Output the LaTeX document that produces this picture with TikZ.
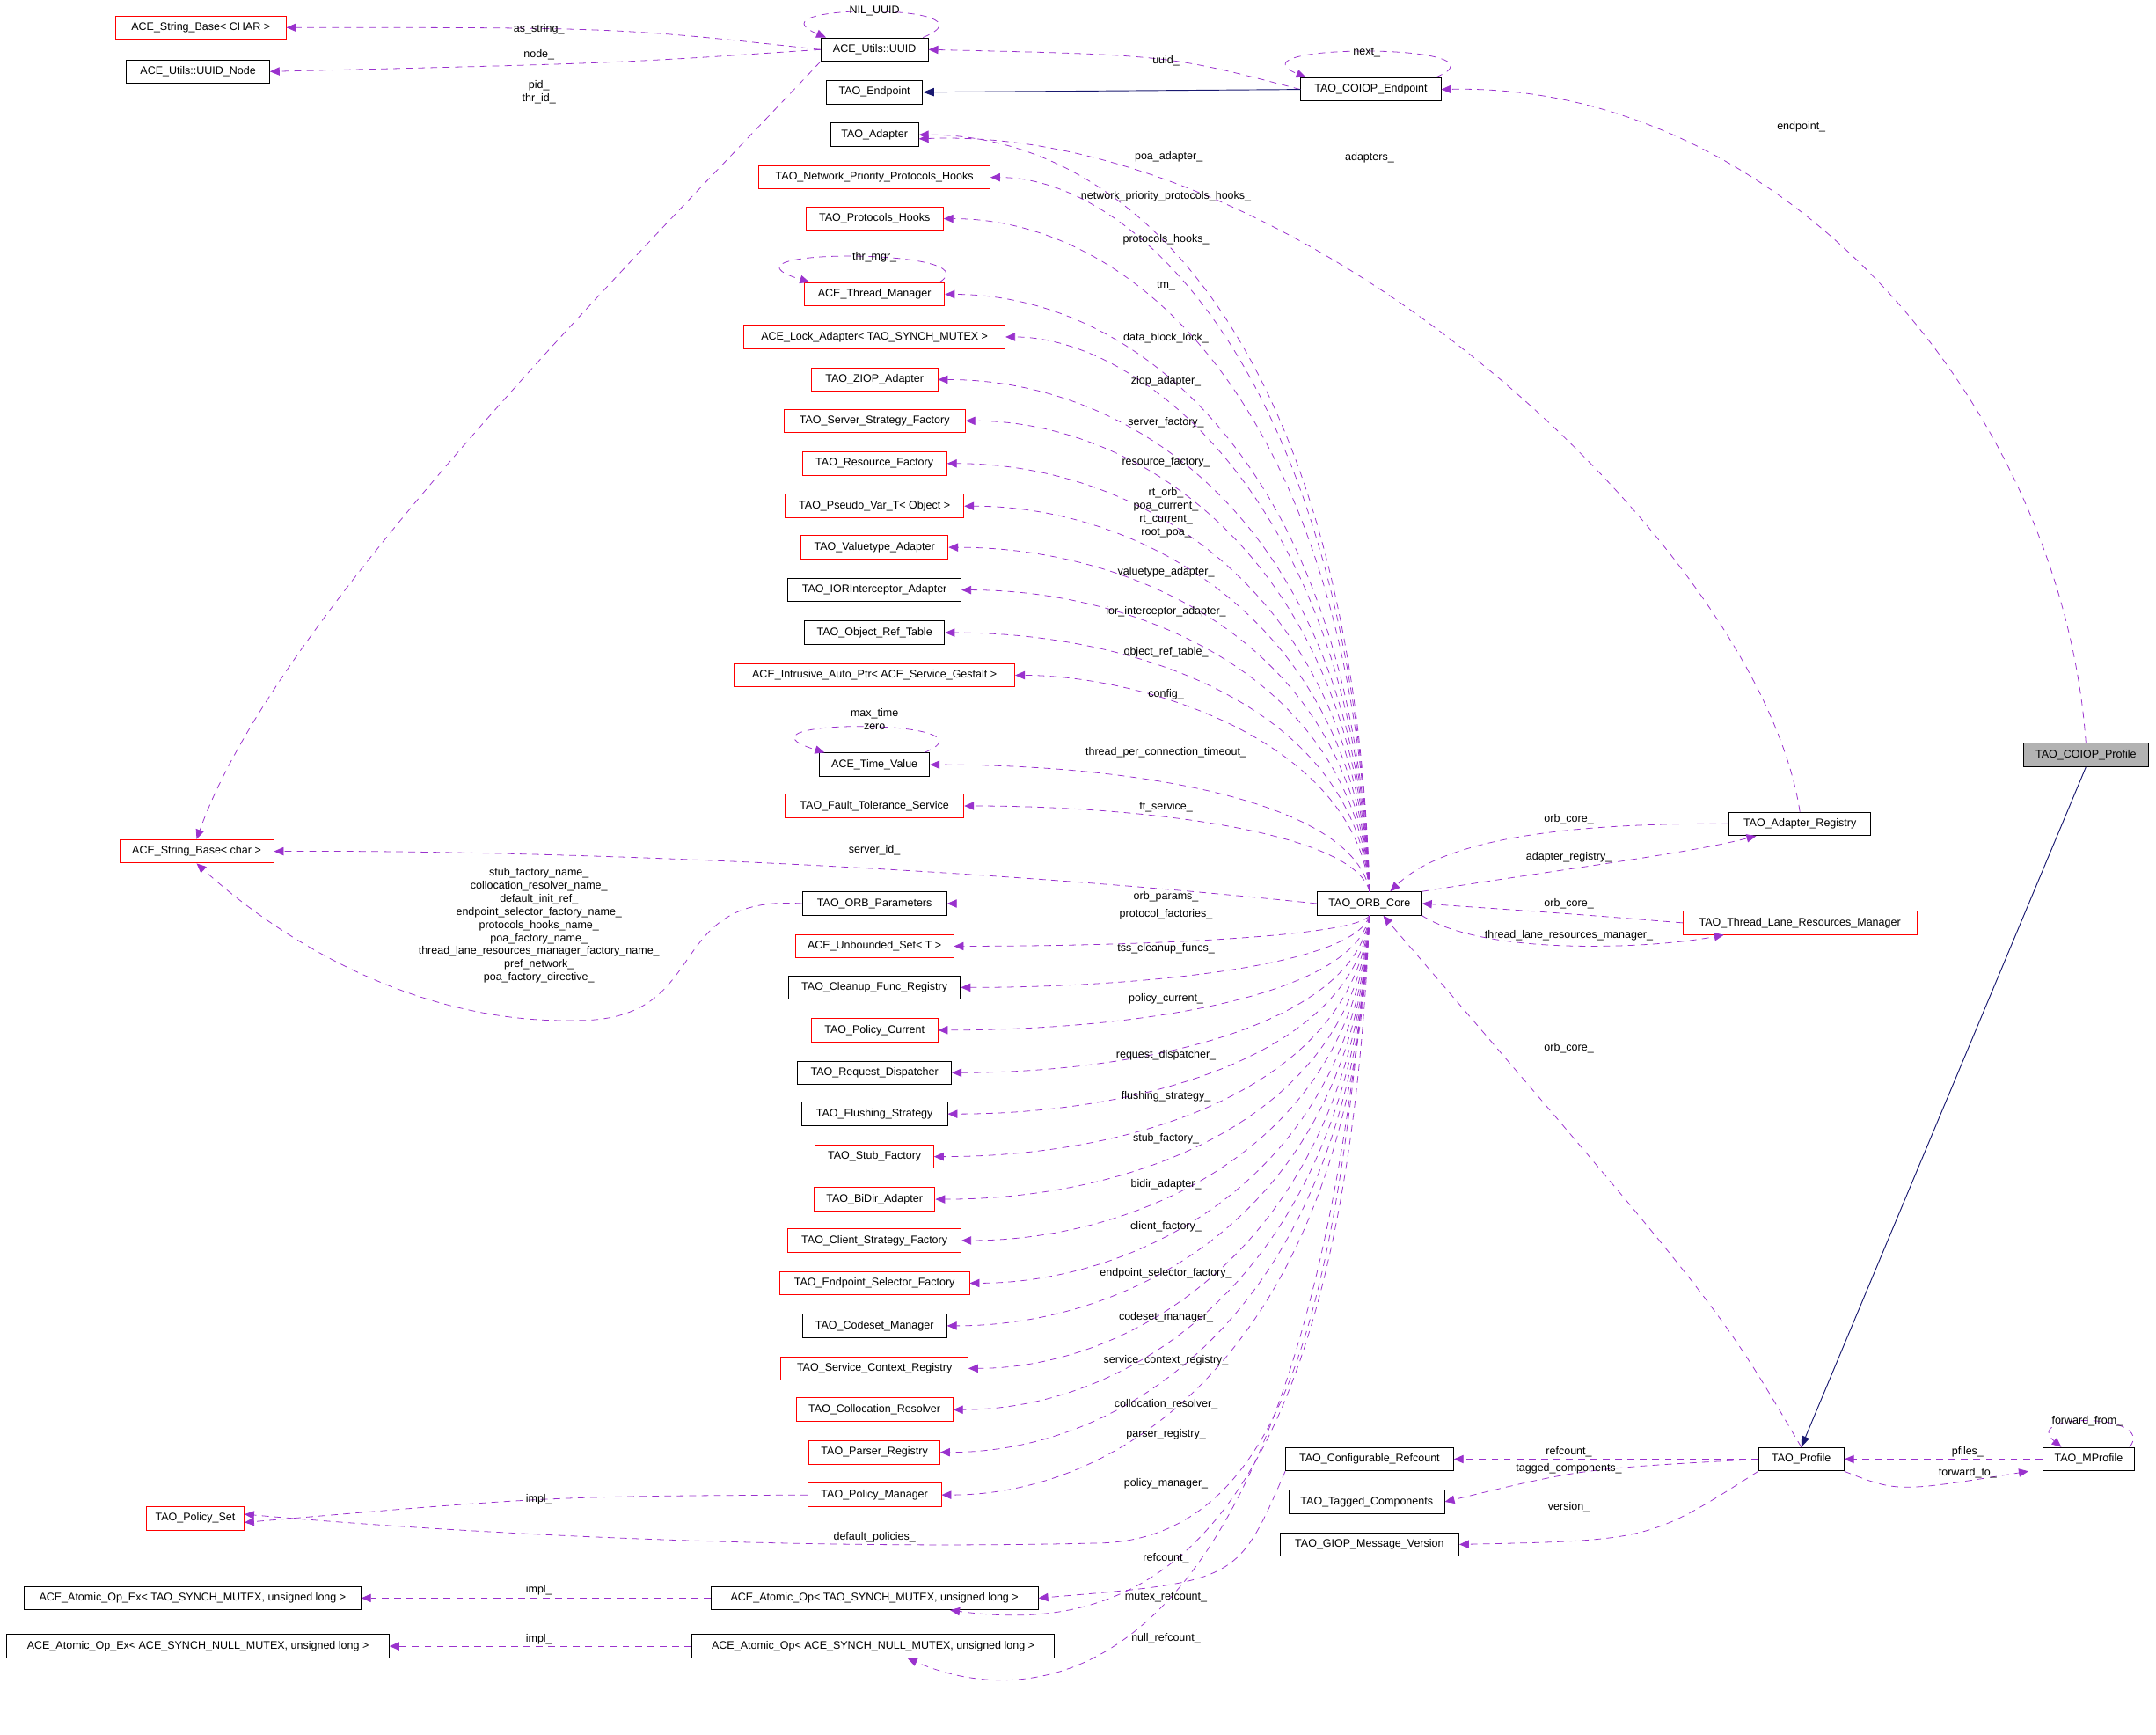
\documentclass[tikz,border=0pt]{standalone}
\usepackage{fontspec}
\setmainfont{Liberation Sans}
\usetikzlibrary{arrows.meta}
\definecolor{dpur}{HTML}{9A32CD}
\definecolor{navy}{HTML}{191970}
\tikzset{
 cls/.style={draw=black,line width=0.6pt,minimum height=17pt,inner sep=1pt,font=\fontsize{8}{9}\selectfont,fill=white},
 rcls/.style={cls,draw=red},
 lbl/.style={inner sep=0pt,font=\fontsize{8}{9}\selectfont,align=center},
 dep/.style={draw=dpur,dashed,dash pattern=on 5pt off 4pt,line width=0.5pt,-{Triangle[length=7pt,width=6pt,fill=dpur]}},
 inh/.style={draw=navy,line width=0.6pt,-{Triangle[length=8pt,width=6pt,fill=navy]}}
}
\newcommand\depU[2]{\draw[dep] (core.north) .. controls (985,{#2+0.3*(648-#2)}) and (830,#2) .. (#1.east);}
\newcommand\depD[2]{\draw[dep] (core.south) .. controls (985,{#2-0.3*(#2-665)}) and (830,#2) .. (#1.east);}
\begin{document}
\begin{tikzpicture}[x=1pt,y=-1pt]
\useasboundingbox (0,0) rectangle (1568,1261);
% nodes
\node[rcls,minimum width=124] (strC) at (146,20) {ACE\_String\_Base< CHAR >};
\node[cls,minimum width=104] (uuidnode) at (144,52) {ACE\_Utils::UUID\_Node};
\node[cls,minimum width=78] (uuid) at (636,36) {ACE\_Utils::UUID};
\node[cls,minimum width=70] (endpoint) at (636,67) {TAO\_Endpoint};
\node[cls,minimum width=102] (coiopep) at (997,65) {TAO\_COIOP\_Endpoint};
\node[cls,minimum width=64] (adapter) at (636,98) {TAO\_Adapter};
\node[rcls,minimum width=168] (nph) at (636,129) {TAO\_Network\_Priority\_Protocols\_Hooks};
\node[rcls,minimum width=100] (ph) at (636,159) {TAO\_Protocols\_Hooks};
\node[rcls,minimum width=102] (thrmgr) at (636,214) {ACE\_Thread\_Manager};
\node[rcls,minimum width=190] (lock) at (636,245) {ACE\_Lock\_Adapter< TAO\_SYNCH\_MUTEX >};
\node[rcls,minimum width=92] (ziop) at (636,276) {TAO\_ZIOP\_Adapter};
\node[rcls,minimum width=132] (ssf) at (636,306) {TAO\_Server\_Strategy\_Factory};
\node[rcls,minimum width=105] (rf) at (636,337) {TAO\_Resource\_Factory};
\node[rcls,minimum width=130] (pv) at (636,368) {TAO\_Pseudo\_Var\_T< Object >};
\node[rcls,minimum width=107] (va) at (636,398) {TAO\_Valuetype\_Adapter};
\node[cls,minimum width=126] (ior) at (636,429) {TAO\_IORInterceptor\_Adapter};
\node[cls,minimum width=102] (ort) at (636,460) {TAO\_Object\_Ref\_Table};
\node[rcls,minimum width=204] (iap) at (636,491) {ACE\_Intrusive\_Auto\_Ptr< ACE\_Service\_Gestalt >};
\node[cls,minimum width=80] (tv) at (636,556) {ACE\_Time\_Value};
\node[rcls,minimum width=130] (fts) at (636,586) {TAO\_Fault\_Tolerance\_Service};
\node[rcls,minimum width=112] (strc) at (143,619) {ACE\_String\_Base< char >};
\node[cls,minimum width=105] (orbp) at (636,657) {TAO\_ORB\_Parameters};
\node[rcls,minimum width=115] (us) at (636,688) {ACE\_Unbounded\_Set< T >};
\node[cls,minimum width=125] (cfr) at (636,718) {TAO\_Cleanup\_Func\_Registry};
\node[rcls,minimum width=92] (pc) at (636,749) {TAO\_Policy\_Current};
\node[cls,minimum width=112] (rd) at (636,780) {TAO\_Request\_Dispatcher};
\node[cls,minimum width=106] (fs) at (636,810) {TAO\_Flushing\_Strategy};
\node[rcls,minimum width=86] (sf) at (636,841) {TAO\_Stub\_Factory};
\node[rcls,minimum width=88] (bd) at (636,872) {TAO\_BiDir\_Adapter};
\node[rcls,minimum width=126] (csf) at (636,902) {TAO\_Client\_Strategy\_Factory};
\node[rcls,minimum width=138] (esf) at (636,933) {TAO\_Endpoint\_Selector\_Factory};
\node[cls,minimum width=105] (cm) at (636,964) {TAO\_Codeset\_Manager};
\node[rcls,minimum width=136] (scr) at (636,995) {TAO\_Service\_Context\_Registry};
\node[rcls,minimum width=114] (cr) at (636,1025) {TAO\_Collocation\_Resolver};
\node[rcls,minimum width=95] (pr) at (636,1056) {TAO\_Parser\_Registry};
\node[rcls,minimum width=97] (pm) at (636,1087) {TAO\_Policy\_Manager};
\node[rcls,minimum width=71] (ps) at (142,1104) {TAO\_Policy\_Set};
\node[cls,minimum width=245] (ax1) at (140,1162) {ACE\_Atomic\_Op\_Ex< TAO\_SYNCH\_MUTEX, unsigned long >};
\node[cls,minimum width=238] (a1) at (636,1162) {ACE\_Atomic\_Op< TAO\_SYNCH\_MUTEX, unsigned long >};
\node[cls,minimum width=278] (ax2) at (144,1197) {ACE\_Atomic\_Op\_Ex< ACE\_SYNCH\_NULL\_MUTEX, unsigned long >};
\node[cls,minimum width=264] (a2) at (635,1197) {ACE\_Atomic\_Op< ACE\_SYNCH\_NULL\_MUTEX, unsigned long >};
\node[cls,minimum width=76] (core) at (996,657) {TAO\_ORB\_Core};
\node[cls,minimum width=103] (areg) at (1309,599) {TAO\_Adapter\_Registry};
\node[rcls,minimum width=170] (tlrm) at (1309,671) {TAO\_Thread\_Lane\_Resources\_Manager};
\node[cls,minimum width=91,fill=black!30] (cprof) at (1517,549) {TAO\_COIOP\_Profile};
\node[cls,minimum width=62] (prof) at (1310,1061) {TAO\_Profile};
\node[cls,minimum width=67] (mprof) at (1519,1061) {TAO\_MProfile};
\node[cls,minimum width=122] (cref) at (996,1061) {TAO\_Configurable\_Refcount};
\node[cls,minimum width=113] (tc) at (994,1092) {TAO\_Tagged\_Components};
\node[cls,minimum width=130] (gmv) at (996,1123) {TAO\_GIOP\_Message\_Version};
% edges core -> left
\depU{adapter}{98}\depU{nph}{129}\depU{ph}{159}\depU{thrmgr}{214}\depU{lock}{245}
\depU{ziop}{276}\depU{ssf}{306}\depU{rf}{337}\depU{pv}{368}\depU{va}{398}
\depU{ior}{429}\depU{ort}{460}\depU{iap}{491}\depU{tv}{556}\depU{fts}{586}
\draw[dep] (core.west) -- (orbp.east);
\depD{us}{688}\depD{cfr}{718}\depD{pc}{749}\depD{rd}{780}\depD{fs}{810}
\depD{sf}{841}\depD{bd}{872}\depD{csf}{902}\depD{esf}{933}\depD{cm}{964}
\depD{scr}{995}\depD{cr}{1025}\depD{pr}{1056}\depD{pm}{1087}
% other edges
\draw[dep] (uuid.west) .. controls (450,20) .. (strC.east);
\draw[dep] (uuid.west) .. controls (450,46) .. (uuidnode.east);
\draw[dep] (uuid.south west) .. controls (450,200) and (200,450) .. (strc.north);
\draw[dep] ([xshift=-4]uuid.north east) .. controls +(60,-25) and +(-60,-25) .. ([xshift=4]uuid.north west);
\draw[dep] (coiopep.west) .. controls (850,40) .. (uuid.east);
\draw[dep] ([xshift=-4]coiopep.north east) .. controls +(60,-25) and +(-60,-25) .. ([xshift=4]coiopep.north west);
\draw[inh] (coiopep.west) -- (endpoint.east);
\draw[dep] (cprof.north) .. controls (1500,300) and (1300,60) .. (coiopep.east);
\draw[dep] (areg.north) .. controls (1280,400) and (950,90) .. ([yshift=-3]adapter.east);
\draw[dep] ([xshift=-4]thrmgr.north east) .. controls +(40,-25) and +(-80,-25) .. ([xshift=4]thrmgr.north west);
\draw[dep] ([xshift=-4]tv.north east) .. controls +(60,-25) and +(-80,-25) .. ([xshift=4]tv.north west);
\draw[dep] (core.west) .. controls (700,630) and (400,618) .. (strc.east);
\draw[dep] (orbp.west) .. controls (480,650) and (520,742) .. (420,742) .. controls (300,745) and (200,680) .. (strc.south);
\draw[dep] (areg.west) .. controls (1100,598) and (1040,620) .. ([xshift=15]core.north);
\draw[dep] (core.north east) .. controls (1150,630) and (1230,620) .. ([xshift=20]areg.south west);
\draw[dep] (tlrm.west) .. controls (1150,665) .. (core.east);
\draw[dep] (core.south east) .. controls (1080,695) and (1200,690) .. ([xshift=30]tlrm.south west);
\draw[dep] (prof.north) .. controls (1250,950) .. ([xshift=10]core.south);
\draw[inh] (cprof.south) -- (prof.north);
\draw[dep] (prof.west) -- (cref.east);
\draw[dep] (prof.west) .. controls (1150,1068) .. (tc.east);
\draw[dep] (prof.south west) .. controls (1200,1120) .. (gmv.east);
\draw[dep] (mprof.west) -- (prof.east);
\draw[dep] (prof.south east) .. controls (1380,1085) .. ([xshift=-10]mprof.south west);
\draw[dep] ([xshift=-4]mprof.north east) .. controls +(20,-25) and +(-30,-25) .. ([xshift=14]mprof.north west);
\draw[dep] (pm.west) .. controls (400,1088) .. ([yshift=-3]ps.east);
\draw[dep] (core.south) .. controls (975,900) and (950,1118) .. (800,1122) .. controls (550,1128) and (300,1112) .. ([yshift=3]ps.east);
\draw[dep] (a1.west) -- (ax1.east);
\draw[dep] (a2.west) -- (ax2.east);
\draw[dep] (cref.south west) .. controls (900,1150) .. (a1.east);
\draw[dep] (core.south) .. controls (975,1170) and (800,1185) .. ([xshift=55]a1.south);
\draw[dep] (core.south) .. controls (950,1245) and (750,1245) .. ([xshift=25]a2.south);
% labels
\node[lbl] (l1) at (392,21) {as\_string\_};
\node[lbl] (l2) at (392,40) {node\_};
\node[lbl] (l3) at (636,8) {NIL\_UUID};
\node[lbl] (l4) at (392,67) {pid\_\\thr\_id\_};
\node[lbl] (l5) at (848,44) {uuid\_};
\node[lbl] (l6) at (994,38) {next\_};
\node[lbl] (l7) at (1310,92) {endpoint\_};
\node[lbl] (l8) at (996,115) {adapters\_};
\node[lbl] (l9) at (850,114) {poa\_adapter\_};
\node[lbl] (l10) at (848,143) {network\_priority\_protocols\_hooks\_};
\node[lbl] (l11) at (848,174) {protocols\_hooks\_};
\node[lbl] (l12) at (636,187) {thr\_mgr\_};
\node[lbl] (l13) at (848,208) {tm\_};
\node[lbl] (l14) at (848,246) {data\_block\_lock\_};
\node[lbl] (l15) at (848,277) {ziop\_adapter\_};
\node[lbl] (l16) at (848,307) {server\_factory\_};
\node[lbl] (l17) at (848,336) {resource\_factory\_};
\node[lbl,font=\fontsize{8}{9.6}\selectfont] (l18) at (848,373) {rt\_orb\_\\poa\_current\_\\rt\_current\_\\root\_poa\_};
\node[lbl] (l19) at (848,416) {valuetype\_adapter\_};
\node[lbl] (l20) at (848,445) {ior\_interceptor\_adapter\_};
\node[lbl] (l21) at (848,474) {object\_ref\_table\_};
\node[lbl] (l22) at (848,505) {config\_};
\node[lbl] (l23) at (636,523) {max\_time\\zero};
\node[lbl] (l24) at (848,547) {thread\_per\_connection\_timeout\_};
\node[lbl] (l25) at (848,587) {ft\_service\_};
\node[lbl] (l26) at (636,618) {server\_id\_};
\node[lbl,font=\fontsize{8}{9.5}\selectfont] (l27) at (392,673) {stub\_factory\_name\_\\collocation\_resolver\_name\_\\default\_init\_ref\_\\endpoint\_selector\_factory\_name\_\\protocols\_hooks\_name\_\\poa\_factory\_name\_\\thread\_lane\_resources\_manager\_factory\_name\_\\pref\_network\_\\poa\_factory\_directive\_};
\node[lbl] (l28) at (848,652) {orb\_params\_};
\node[lbl] (l29) at (848,665) {protocol\_factories\_};
\node[lbl] (l30) at (848,690) {tss\_cleanup\_funcs\_};
\node[lbl] (l31) at (848,726) {policy\_current\_};
\node[lbl] (l32) at (848,767) {request\_dispatcher\_};
\node[lbl] (l33) at (848,797) {flushing\_strategy\_};
\node[lbl] (l34) at (848,828) {stub\_factory\_};
\node[lbl] (l35) at (848,861) {bidir\_adapter\_};
\node[lbl] (l36) at (848,892) {client\_factory\_};
\node[lbl] (l37) at (848,926) {endpoint\_selector\_factory\_};
\node[lbl] (l38) at (848,958) {codeset\_manager\_};
\node[lbl] (l39) at (848,989) {service\_context\_registry\_};
\node[lbl] (l40) at (848,1021) {collocation\_resolver\_};
\node[lbl] (l41) at (848,1043) {parser\_registry\_};
\node[lbl] (l42) at (848,1079) {policy\_manager\_};
\node[lbl] (l43) at (392,1090) {impl\_};
\node[lbl] (l44) at (636,1118) {default\_policies\_};
\node[lbl] (l45) at (848,1133) {refcount\_};
\node[lbl] (l46) at (848,1161) {mutex\_refcount\_};
\node[lbl] (l47) at (848,1191) {null\_refcount\_};
\node[lbl] (l48) at (392,1156) {impl\_};
\node[lbl] (l49) at (392,1192) {impl\_};
\node[lbl] (l50) at (1141,596) {orb\_core\_};
\node[lbl] (l51) at (1141,623) {adapter\_registry\_};
\node[lbl] (l52) at (1141,657) {orb\_core\_};
\node[lbl] (l53) at (1141,680) {thread\_lane\_resources\_manager\_};
\node[lbl] (l54) at (1141,762) {orb\_core\_};
\node[lbl] (l55) at (1141,1056) {refcount\_};
\node[lbl] (l56) at (1141,1068) {tagged\_components\_};
\node[lbl] (l57) at (1141,1096) {version\_};
\node[lbl] (l58) at (1431,1056) {pfiles\_};
\node[lbl] (l59) at (1431,1071) {forward\_to\_};
\node[lbl] (l60) at (1518,1033) {forward\_from\_};
\end{tikzpicture}
\end{document}
